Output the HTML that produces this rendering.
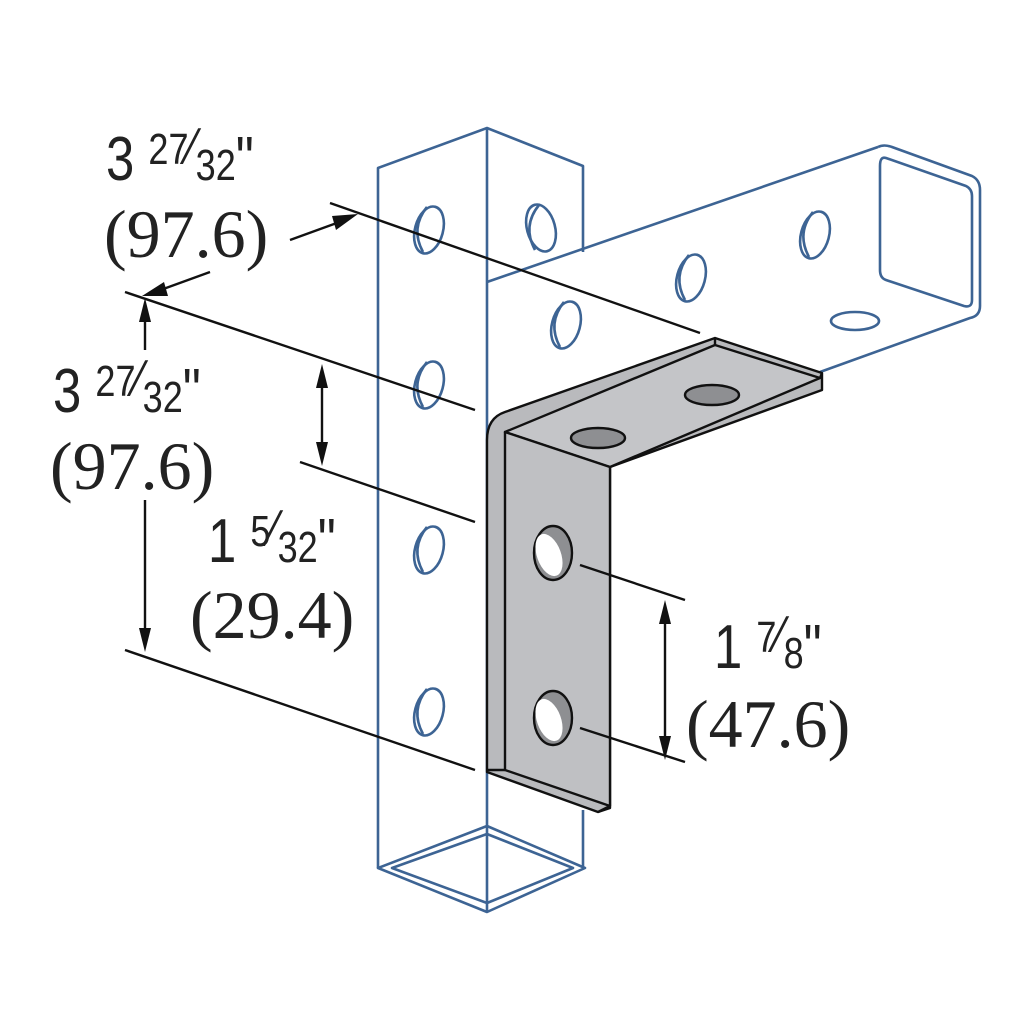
<!DOCTYPE html>
<html><head><style>body{margin:0;background:#fff}svg{display:block}</style></head><body>
<svg width="1024" height="1024" viewBox="0 0 1024 1024" xmlns="http://www.w3.org/2000/svg">
<g fill="none" stroke="#3d6494" stroke-width="2.6" stroke-linejoin="round">
<!-- vertical tube -->
<path d="M378,868 V168 L487,128 L583,166 V252"/>
<path d="M487,128 V912"/>
<path d="M583,810 V868"/>
<path d="M378,868 L487,826 L585,868 L487,912 Z"/>
<path d="M392,868 L487,834 L573,868 L487,903 Z"/>
<!-- horizontal tube -->
<path d="M487,282 L878,147"/>
<path d="M878,147 Q884,144 892,147 L972,176 Q980,180 980,190 V306 Q980,316 970,318 L820,372"/>
<path d="M886,158 L966,186 Q972,189 972,196 V300 Q972,308 964,306 L886,280 Q880,278 880,270 V166 Q880,156 886,158 Z"/>
<ellipse cx="855" cy="321" rx="24" ry="9"/>
<!-- holes -->
<g>
<ellipse cx="429" cy="230" rx="14" ry="24" transform="rotate(15 429 230)"/><path d="M423,252 Q410,228 427,207"/>
<ellipse cx="429" cy="385" rx="14" ry="24" transform="rotate(15 429 385)"/><path d="M423,407 Q410,383 427,362"/>
<ellipse cx="429" cy="550" rx="14" ry="24" transform="rotate(15 429 550)"/><path d="M423,572 Q410,548 427,527"/>
<ellipse cx="429" cy="712" rx="14" ry="24" transform="rotate(15 429 712)"/><path d="M423,734 Q410,710 427,689"/>
<ellipse cx="541" cy="228" rx="14" ry="24" transform="rotate(-15 541 228)"/><path d="M535,250 Q522,226 539,205"/>
<ellipse cx="566" cy="325" rx="14" ry="24" transform="rotate(15 566 325)"/><path d="M560,347 Q547,323 564,302"/>
<ellipse cx="691" cy="278" rx="14" ry="24" transform="rotate(15 691 278)"/><path d="M685,300 Q672,276 689,255"/>
<ellipse cx="815" cy="235" rx="14" ry="24" transform="rotate(15 815 235)"/><path d="M809,257 Q796,233 813,212"/>
</g>
</g>
<!-- bracket -->
<g stroke="#111" stroke-width="2.4" stroke-linejoin="round">
<path fill="#b9babd" d="M487,440 Q487,418 505,412 L715,338 L822,373 V390 L610,467 V808 L598,812 L487,772 Z"/>
<path fill="#c4c5c8" d="M505,432 L715,345 L820,378 L610,467 Z"/>
<path fill="#bfc0c3" d="M505,432 L610,467 V806 L505,770 Z"/>
<path fill="none" d="M715,338 V345 M822,373 L820,378 M487,770 L505,770 M598,812 L610,806"/>
<ellipse cx="598" cy="438" rx="27" ry="10" fill="#8e8f92"/>
<ellipse cx="712" cy="395" rx="27" ry="10" fill="#8e8f92"/>
<ellipse cx="553" cy="553" rx="19" ry="27" fill="#8e8f92"/>
<ellipse cx="549" cy="555" rx="12" ry="22" fill="#fff" stroke="none" transform="rotate(-20 549 555)"/>
<ellipse cx="553" cy="718" rx="19" ry="27" fill="#8e8f92"/>
<ellipse cx="549" cy="720" rx="12" ry="22" fill="#fff" stroke="none" transform="rotate(-20 549 720)"/>
</g>
<!-- dimension lines -->
<g stroke="#111" stroke-width="2.4" fill="none">
<path d="M330,203 L700,333"/>
<path d="M125,292 L475,410"/>
<path d="M300,462 L475,522"/>
<path d="M125,650 L475,770"/>
<path d="M580,565 L685,600"/>
<path d="M580,728 L685,762"/>
<path d="M290,240 L345,220"/>
<path d="M210,272 L155,292"/>
<path d="M145,310 V350 M145,500 V640"/>
<path d="M322,375 V455"/>
<path d="M665,610 V750"/>
</g>
<g fill="#111">
<path d="M358,214 L336,230 L332,216 Z"/>
<path d="M142,296 L164,282 L168,296 Z"/>
<path d="M145,298 L139,322 L151,322 Z"/>
<path d="M145,652 L139,628 L151,628 Z"/>
<path d="M322,364 L316,388 L328,388 Z"/>
<path d="M322,466 L316,442 L328,442 Z"/>
<path d="M665,600 L659,624 L671,624 Z"/>
<path d="M665,760 L659,736 L671,736 Z"/>
</g>
<g fill="#222">
<text x="106" y="180" font-family="Liberation Sans, sans-serif" font-size="62" transform="scale(0.82 1)" transform-origin="106 180">3 <tspan font-size="44" dy="-16">27</tspan><tspan font-size="52">⁄</tspan><tspan font-size="44" dy="16">32</tspan>"</text>
<text x="104" y="257" font-family="Liberation Serif, serif" font-size="68">(97.6)</text>
<text x="53" y="412" font-family="Liberation Sans, sans-serif" font-size="62" transform="scale(0.82 1)" transform-origin="53 412">3 <tspan font-size="44" dy="-16">27</tspan><tspan font-size="52">⁄</tspan><tspan font-size="44" dy="16">32</tspan>"</text>
<text x="50" y="489" font-family="Liberation Serif, serif" font-size="68">(97.6)</text>
<text x="208" y="562" font-family="Liberation Sans, sans-serif" font-size="62" transform="scale(0.82 1)" transform-origin="208 562">1 <tspan font-size="44" dy="-16">5</tspan><tspan font-size="52">⁄</tspan><tspan font-size="44" dy="16">32</tspan>"</text>
<text x="190" y="638" font-family="Liberation Serif, serif" font-size="68">(29.4)</text>
<text x="714" y="668" font-family="Liberation Sans, sans-serif" font-size="62" transform="scale(0.82 1)" transform-origin="714 668">1 <tspan font-size="44" dy="-16">7</tspan><tspan font-size="52">⁄</tspan><tspan font-size="44" dy="16">8</tspan>"</text>
<text x="686" y="747" font-family="Liberation Serif, serif" font-size="68">(47.6)</text>
</g>
</svg>
</body></html>
